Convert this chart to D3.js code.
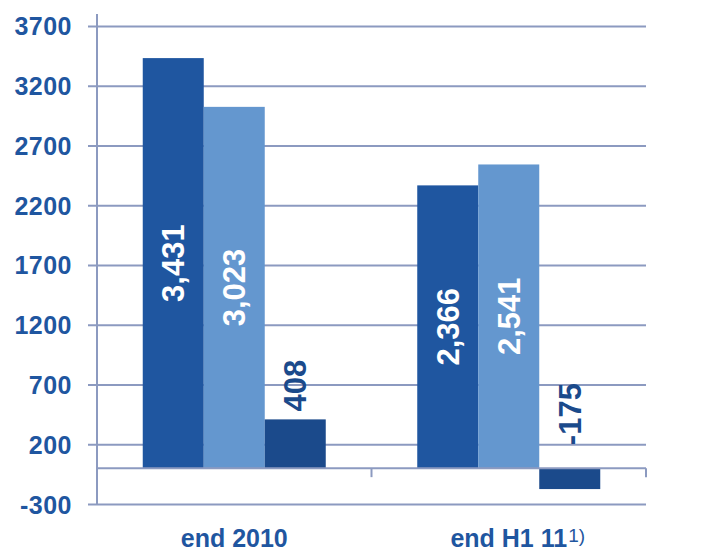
<!DOCTYPE html>
<html>
<head>
<meta charset="utf-8">
<script src="https://cdn.jsdelivr.net/npm/d3@7"></script>
<style>
  html, body { margin: 0; padding: 0; background: #fff; }
  svg { display: block; font-family: "Liberation Sans", Arial, Helvetica, sans-serif; }
</style>
</head>
<body>
<svg id="chart" width="727" height="550"></svg>
<script>
const categories = ["end 2010", "end H1 11"];
const categoryNotes = ["", "1)"];
const seriesNames = ["A", "B", "C"];
const seriesA = [3431, 2366];
const seriesB = [3023, 2541];
const seriesC = [408, -175];
const valueLabels = [["3,431", "3,023", "408"], ["2,366", "2,541", "-175"]];
const yTicks = [-300, 200, 700, 1200, 1700, 2200, 2700, 3200, 3700];

const colors = ["#1f56a0", "#6497cf", "#1b4a8b"];
const textBlue = "#1f56a0";
const gridColor = "#8c9ac0";

(function () {
const svg = d3.select("#chart");
const pLeft = 97, pRight = 646, pTop = 14, pBottom = 504;

const y = d3.scaleLinear().domain([-300, 3800]).range([pBottom, pTop]);
const x = d3.scaleBand().domain(categories).range([pLeft, pRight]).paddingInner(0).paddingOuter(0);
const xs = d3.scaleBand().domain(seriesNames).range([0, x.bandwidth()]).paddingInner(0).paddingOuter(0.75);

const seriesValues = [seriesA, seriesB, seriesC];

// gridlines + tick labels
const axis = d3.axisLeft(y).tickValues(yTicks).tickSize(-(pRight - 88)).tickPadding(16).tickFormat(d => String(d));
const gAxis = svg.append("g").attr("transform", "translate(88,0)").call(axis);
gAxis.select(".domain").remove();
gAxis.selectAll(".tick line").attr("stroke", gridColor).attr("stroke-width", 2);
gAxis.selectAll(".tick text")
  .attr("fill", textBlue).attr("font-size", 25).attr("font-weight", "bold")
  .attr("dy", "0.36em").attr("letter-spacing", "0.5");

// y axis line
svg.append("line").attr("x1", pLeft).attr("x2", pLeft).attr("y1", pTop).attr("y2", pBottom)
  .attr("stroke", gridColor).attr("stroke-width", 2);

// bars
const data = [];
categories.forEach((c, ci) => {
  seriesNames.forEach((s, si) => {
    data.push({ c, ci, s, si, v: seriesValues[si][ci], label: valueLabels[ci][si] });
  });
});

svg.append("g").selectAll("rect").data(data).join("rect")
  .attr("x", d => x(d.c) + xs(d.s))
  .attr("width", xs.bandwidth())
  .attr("y", d => y(Math.max(0, d.v)))
  .attr("height", d => Math.abs(y(d.v) - y(0)))
  .attr("fill", d => colors[d.si]);

// zero line with category ticks
svg.append("line").attr("x1", pLeft).attr("x2", pRight).attr("y1", y(0)).attr("y2", y(0))
  .attr("stroke", gridColor).attr("stroke-width", 2);
const catEdges = [pLeft].concat(categories.map(c => x(c) + x.bandwidth()));
svg.append("g").selectAll("line").data(catEdges).join("line")
  .attr("x1", d => d).attr("x2", d => d)
  .attr("y1", y(0)).attr("y2", y(0) + 9)
  .attr("stroke", gridColor).attr("stroke-width", 2);

// value labels (rotated)
const fs = 31;
svg.append("g").selectAll("text").data(data).join("text")
  .attr("transform", d => {
    const cx = x(d.c) + xs(d.s) + xs.bandwidth() / 2 + fs * 0.36;
    let cy;
    if (d.si < 2) {
      cy = (y(d.v) + y(0)) / 2;
    } else if (d.v >= 0) {
      cy = y(d.v) - 8;
    } else {
      cy = y(0) - 23;
    }
    return `translate(${cx},${cy}) rotate(-90)`;
  })
  .attr("text-anchor", d => d.si < 2 ? "middle" : "start")
  .attr("font-size", fs).attr("font-weight", "bold")
  .attr("fill", d => d.si < 2 ? "#ffffff" : colors[2])
  .text(d => d.label);

// category labels
categories.forEach((c, ci) => {
  const t = svg.append("text")
    .attr("x", x(c) + x.bandwidth() / 2)
    .attr("y", 546.5)
    .attr("text-anchor", "middle")
    .attr("font-size", 25).attr("font-weight", "bold")
    .attr("fill", textBlue)
    .text(c);
  if (categoryNotes[ci]) {
    const bb = t.node().getBBox();
    svg.append("text")
      .attr("x", bb.x + bb.width + 1)
      .attr("y", 542)
      .attr("font-size", 19)
      .attr("fill", textBlue)
      .text(categoryNotes[ci]);
  }
});
})();
</script>
</body>
</html>
